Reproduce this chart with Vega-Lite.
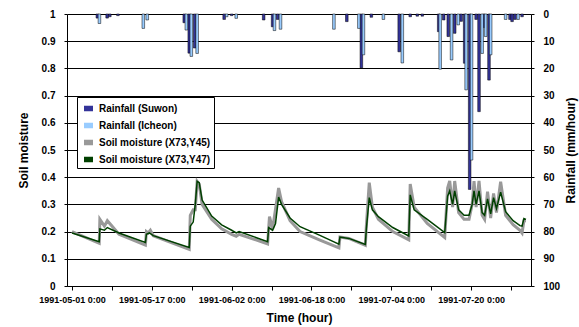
{
  "$schema": "https://vega.github.io/schema/vega-lite/v6.json",
  "width": 464,
  "height": 272,
  "autosize": {"type": "none"},
  "padding": {"left": 67, "top": 14, "right": 48, "bottom": 41},
  "background": "white",
  "config": {
    "view": {"stroke": null},
    "font": "Liberation Sans",
    "axis": {
      "labelFont": "Liberation Sans", "labelFontWeight": "bold", "labelColor": "#000",
      "titleFont": "Liberation Sans", "titleFontWeight": "bold", "titleColor": "#000", "titleFontSize": 12,
      "domainColor": "#000", "tickColor": "#000", "domainWidth": 1
    }
  },
  "datasets": {
    "rain": [
      {"t": "1991-05-06T02:00", "s": "Rainfall (Suwon)", "r": 1.5},
      {"t": "1991-05-08T01:00", "s": "Rainfall (Suwon)", "r": 1.5},
      {"t": "1991-05-08T14:00", "s": "Rainfall (Suwon)", "r": 1.0},
      {"t": "1991-05-10T05:00", "s": "Rainfall (Suwon)", "r": 0.6},
      {"t": "1991-05-23T12:00", "s": "Rainfall (Suwon)", "r": 3.2},
      {"t": "1991-05-24T12:00", "s": "Rainfall (Suwon)", "r": 14.4},
      {"t": "1991-05-25T14:00", "s": "Rainfall (Suwon)", "r": 12.5},
      {"t": "1991-05-31T12:00", "s": "Rainfall (Suwon)", "r": 2.0},
      {"t": "1991-06-02T00:00", "s": "Rainfall (Suwon)", "r": 0.6},
      {"t": "1991-06-08T10:00", "s": "Rainfall (Suwon)", "r": 2.2},
      {"t": "1991-06-10T05:00", "s": "Rainfall (Suwon)", "r": 4.7},
      {"t": "1991-06-11T05:00", "s": "Rainfall (Suwon)", "r": 2.0},
      {"t": "1991-06-25T02:00", "s": "Rainfall (Suwon)", "r": 2.8},
      {"t": "1991-06-28T00:00", "s": "Rainfall (Suwon)", "r": 19.8},
      {"t": "1991-06-30T00:00", "s": "Rainfall (Suwon)", "r": 1.2},
      {"t": "1991-07-05T14:00", "s": "Rainfall (Suwon)", "r": 13.9},
      {"t": "1991-07-07T19:00", "s": "Rainfall (Suwon)", "r": 1.0},
      {"t": "1991-07-09T05:00", "s": "Rainfall (Suwon)", "r": 0.8},
      {"t": "1991-07-10T05:00", "s": "Rainfall (Suwon)", "r": 0.8},
      {"t": "1991-07-13T12:00", "s": "Rainfall (Suwon)", "r": 6.5},
      {"t": "1991-07-14T12:00", "s": "Rainfall (Suwon)", "r": 2.2},
      {"t": "1991-07-15T10:00", "s": "Rainfall (Suwon)", "r": 8.3},
      {"t": "1991-07-16T17:00", "s": "Rainfall (Suwon)", "r": 7.1},
      {"t": "1991-07-18T00:00", "s": "Rainfall (Suwon)", "r": 2.7},
      {"t": "1991-07-18T17:00", "s": "Rainfall (Suwon)", "r": 18.1},
      {"t": "1991-07-19T17:00", "s": "Rainfall (Suwon)", "r": 64.5},
      {"t": "1991-07-21T00:00", "s": "Rainfall (Suwon)", "r": 2.0},
      {"t": "1991-07-21T14:00", "s": "Rainfall (Suwon)", "r": 35.9},
      {"t": "1991-07-22T14:00", "s": "Rainfall (Suwon)", "r": 5.0},
      {"t": "1991-07-23T14:00", "s": "Rainfall (Suwon)", "r": 24.3},
      {"t": "1991-07-27T19:00", "s": "Rainfall (Suwon)", "r": 2.0},
      {"t": "1991-07-28T05:00", "s": "Rainfall (Suwon)", "r": 2.8},
      {"t": "1991-07-28T19:00", "s": "Rainfall (Suwon)", "r": 2.0},
      {"t": "1991-07-30T05:00", "s": "Rainfall (Suwon)", "r": 1.0},
      {"t": "1991-05-06T12:00", "s": "Rainfall (Icheon)", "r": 3.5},
      {"t": "1991-05-15T07:00", "s": "Rainfall (Icheon)", "r": 5.3},
      {"t": "1991-05-16T02:00", "s": "Rainfall (Icheon)", "r": 2.2},
      {"t": "1991-05-23T22:00", "s": "Rainfall (Icheon)", "r": 5.9},
      {"t": "1991-05-24T22:00", "s": "Rainfall (Icheon)", "r": 15.6},
      {"t": "1991-05-26T02:00", "s": "Rainfall (Icheon)", "r": 14.5},
      {"t": "1991-06-01T00:00", "s": "Rainfall (Icheon)", "r": 1.0},
      {"t": "1991-06-02T22:00", "s": "Rainfall (Icheon)", "r": 1.6},
      {"t": "1991-06-10T14:00", "s": "Rainfall (Icheon)", "r": 6.1},
      {"t": "1991-06-11T19:00", "s": "Rainfall (Icheon)", "r": 5.6},
      {"t": "1991-06-22T12:00", "s": "Rainfall (Icheon)", "r": 5.6},
      {"t": "1991-06-27T12:00", "s": "Rainfall (Icheon)", "r": 5.3},
      {"t": "1991-06-28T10:00", "s": "Rainfall (Icheon)", "r": 15.0},
      {"t": "1991-07-02T10:00", "s": "Rainfall (Icheon)", "r": 2.0},
      {"t": "1991-07-06T05:00", "s": "Rainfall (Icheon)", "r": 18.0},
      {"t": "1991-07-13T19:00", "s": "Rainfall (Icheon)", "r": 20.3},
      {"t": "1991-07-16T02:00", "s": "Rainfall (Icheon)", "r": 16.9},
      {"t": "1991-07-17T10:00", "s": "Rainfall (Icheon)", "r": 4.0},
      {"t": "1991-07-19T00:00", "s": "Rainfall (Icheon)", "r": 27.9},
      {"t": "1991-07-20T02:00", "s": "Rainfall (Icheon)", "r": 53.7},
      {"t": "1991-07-22T05:00", "s": "Rainfall (Icheon)", "r": 14.5},
      {"t": "1991-07-22T22:00", "s": "Rainfall (Icheon)", "r": 8.3},
      {"t": "1991-07-23T22:00", "s": "Rainfall (Icheon)", "r": 15.0},
      {"t": "1991-07-26T22:00", "s": "Rainfall (Icheon)", "r": 2.0},
      {"t": "1991-07-29T10:00", "s": "Rainfall (Icheon)", "r": 2.0}
    ],
    "sm": [
      {"t": "1991-05-01T00:00", "s": "Soil moisture (X73,Y45)", "v": 0.2},
      {"t": "1991-05-06T11:00", "s": "Soil moisture (X73,Y45)", "v": 0.157},
      {"t": "1991-05-06T14:00", "s": "Soil moisture (X73,Y45)", "v": 0.245},
      {"t": "1991-05-07T12:00", "s": "Soil moisture (X73,Y45)", "v": 0.22},
      {"t": "1991-05-08T02:00", "s": "Soil moisture (X73,Y45)", "v": 0.24},
      {"t": "1991-05-10T10:00", "s": "Soil moisture (X73,Y45)", "v": 0.19},
      {"t": "1991-05-15T17:00", "s": "Soil moisture (X73,Y45)", "v": 0.15},
      {"t": "1991-05-15T22:00", "s": "Soil moisture (X73,Y45)", "v": 0.2},
      {"t": "1991-05-16T07:00", "s": "Soil moisture (X73,Y45)", "v": 0.195},
      {"t": "1991-05-16T17:00", "s": "Soil moisture (X73,Y45)", "v": 0.205},
      {"t": "1991-05-17T07:00", "s": "Soil moisture (X73,Y45)", "v": 0.185},
      {"t": "1991-05-24T12:00", "s": "Soil moisture (X73,Y45)", "v": 0.135},
      {"t": "1991-05-24T17:00", "s": "Soil moisture (X73,Y45)", "v": 0.26},
      {"t": "1991-05-25T07:00", "s": "Soil moisture (X73,Y45)", "v": 0.28},
      {"t": "1991-05-25T17:00", "s": "Soil moisture (X73,Y45)", "v": 0.28},
      {"t": "1991-05-26T02:00", "s": "Soil moisture (X73,Y45)", "v": 0.385},
      {"t": "1991-05-26T12:00", "s": "Soil moisture (X73,Y45)", "v": 0.375},
      {"t": "1991-05-27T02:00", "s": "Soil moisture (X73,Y45)", "v": 0.3},
      {"t": "1991-05-29T00:00", "s": "Soil moisture (X73,Y45)", "v": 0.245},
      {"t": "1991-05-31T00:00", "s": "Soil moisture (X73,Y45)", "v": 0.21},
      {"t": "1991-06-02T00:00", "s": "Soil moisture (X73,Y45)", "v": 0.19},
      {"t": "1991-06-02T22:00", "s": "Soil moisture (X73,Y45)", "v": 0.183},
      {"t": "1991-06-03T12:00", "s": "Soil moisture (X73,Y45)", "v": 0.19},
      {"t": "1991-06-09T05:00", "s": "Soil moisture (X73,Y45)", "v": 0.155},
      {"t": "1991-06-09T14:00", "s": "Soil moisture (X73,Y45)", "v": 0.255},
      {"t": "1991-06-10T05:00", "s": "Soil moisture (X73,Y45)", "v": 0.21},
      {"t": "1991-06-11T10:00", "s": "Soil moisture (X73,Y45)", "v": 0.36},
      {"t": "1991-06-12T00:00", "s": "Soil moisture (X73,Y45)", "v": 0.31},
      {"t": "1991-06-13T17:00", "s": "Soil moisture (X73,Y45)", "v": 0.24},
      {"t": "1991-06-15T17:00", "s": "Soil moisture (X73,Y45)", "v": 0.2},
      {"t": "1991-06-19T14:00", "s": "Soil moisture (X73,Y45)", "v": 0.17},
      {"t": "1991-06-23T12:00", "s": "Soil moisture (X73,Y45)", "v": 0.14},
      {"t": "1991-06-23T17:00", "s": "Soil moisture (X73,Y45)", "v": 0.18},
      {"t": "1991-06-25T12:00", "s": "Soil moisture (X73,Y45)", "v": 0.175},
      {"t": "1991-06-28T19:00", "s": "Soil moisture (X73,Y45)", "v": 0.15},
      {"t": "1991-06-29T00:00", "s": "Soil moisture (X73,Y45)", "v": 0.22},
      {"t": "1991-06-29T14:00", "s": "Soil moisture (X73,Y45)", "v": 0.38},
      {"t": "1991-06-30T05:00", "s": "Soil moisture (X73,Y45)", "v": 0.29},
      {"t": "1991-07-01T10:00", "s": "Soil moisture (X73,Y45)", "v": 0.245},
      {"t": "1991-07-04T07:00", "s": "Soil moisture (X73,Y45)", "v": 0.2},
      {"t": "1991-07-07T12:00", "s": "Soil moisture (X73,Y45)", "v": 0.17},
      {"t": "1991-07-07T19:00", "s": "Soil moisture (X73,Y45)", "v": 0.375},
      {"t": "1991-07-08T14:00", "s": "Soil moisture (X73,Y45)", "v": 0.29},
      {"t": "1991-07-11T05:00", "s": "Soil moisture (X73,Y45)", "v": 0.23},
      {"t": "1991-07-14T17:00", "s": "Soil moisture (X73,Y45)", "v": 0.178},
      {"t": "1991-07-15T07:00", "s": "Soil moisture (X73,Y45)", "v": 0.36},
      {"t": "1991-07-15T17:00", "s": "Soil moisture (X73,Y45)", "v": 0.386},
      {"t": "1991-07-16T07:00", "s": "Soil moisture (X73,Y45)", "v": 0.29},
      {"t": "1991-07-16T17:00", "s": "Soil moisture (X73,Y45)", "v": 0.386},
      {"t": "1991-07-17T12:00", "s": "Soil moisture (X73,Y45)", "v": 0.27},
      {"t": "1991-07-18T14:00", "s": "Soil moisture (X73,Y45)", "v": 0.245},
      {"t": "1991-07-19T14:00", "s": "Soil moisture (X73,Y45)", "v": 0.245},
      {"t": "1991-07-20T05:00", "s": "Soil moisture (X73,Y45)", "v": 0.3},
      {"t": "1991-07-20T14:00", "s": "Soil moisture (X73,Y45)", "v": 0.386},
      {"t": "1991-07-21T00:00", "s": "Soil moisture (X73,Y45)", "v": 0.29},
      {"t": "1991-07-21T14:00", "s": "Soil moisture (X73,Y45)", "v": 0.386},
      {"t": "1991-07-22T05:00", "s": "Soil moisture (X73,Y45)", "v": 0.26},
      {"t": "1991-07-22T17:00", "s": "Soil moisture (X73,Y45)", "v": 0.245},
      {"t": "1991-07-23T07:00", "s": "Soil moisture (X73,Y45)", "v": 0.347},
      {"t": "1991-07-23T22:00", "s": "Soil moisture (X73,Y45)", "v": 0.25},
      {"t": "1991-07-24T12:00", "s": "Soil moisture (X73,Y45)", "v": 0.34},
      {"t": "1991-07-25T02:00", "s": "Soil moisture (X73,Y45)", "v": 0.27},
      {"t": "1991-07-25T22:00", "s": "Soil moisture (X73,Y45)", "v": 0.383},
      {"t": "1991-07-26T22:00", "s": "Soil moisture (X73,Y45)", "v": 0.26},
      {"t": "1991-07-28T10:00", "s": "Soil moisture (X73,Y45)", "v": 0.225},
      {"t": "1991-07-29T19:00", "s": "Soil moisture (X73,Y45)", "v": 0.205},
      {"t": "1991-07-30T05:00", "s": "Soil moisture (X73,Y45)", "v": 0.195},
      {"t": "1991-07-30T14:00", "s": "Soil moisture (X73,Y45)", "v": 0.24},
      {"t": "1991-07-31T00:00", "s": "Soil moisture (X73,Y45)", "v": 0.24},
      {"t": "1991-05-01T00:00", "s": "Soil moisture (X73,Y47)", "v": 0.195},
      {"t": "1991-05-06T11:00", "s": "Soil moisture (X73,Y47)", "v": 0.163},
      {"t": "1991-05-06T14:00", "s": "Soil moisture (X73,Y47)", "v": 0.21},
      {"t": "1991-05-07T12:00", "s": "Soil moisture (X73,Y47)", "v": 0.205},
      {"t": "1991-05-08T02:00", "s": "Soil moisture (X73,Y47)", "v": 0.215},
      {"t": "1991-05-10T10:00", "s": "Soil moisture (X73,Y47)", "v": 0.195},
      {"t": "1991-05-15T17:00", "s": "Soil moisture (X73,Y47)", "v": 0.16},
      {"t": "1991-05-15T22:00", "s": "Soil moisture (X73,Y47)", "v": 0.19},
      {"t": "1991-05-16T12:00", "s": "Soil moisture (X73,Y47)", "v": 0.195},
      {"t": "1991-05-17T07:00", "s": "Soil moisture (X73,Y47)", "v": 0.185},
      {"t": "1991-05-24T12:00", "s": "Soil moisture (X73,Y47)", "v": 0.142},
      {"t": "1991-05-24T17:00", "s": "Soil moisture (X73,Y47)", "v": 0.22},
      {"t": "1991-05-25T07:00", "s": "Soil moisture (X73,Y47)", "v": 0.235},
      {"t": "1991-05-25T17:00", "s": "Soil moisture (X73,Y47)", "v": 0.3},
      {"t": "1991-05-26T02:00", "s": "Soil moisture (X73,Y47)", "v": 0.385},
      {"t": "1991-05-26T12:00", "s": "Soil moisture (X73,Y47)", "v": 0.38},
      {"t": "1991-05-27T02:00", "s": "Soil moisture (X73,Y47)", "v": 0.316},
      {"t": "1991-05-29T00:00", "s": "Soil moisture (X73,Y47)", "v": 0.257},
      {"t": "1991-05-31T00:00", "s": "Soil moisture (X73,Y47)", "v": 0.225},
      {"t": "1991-06-02T00:00", "s": "Soil moisture (X73,Y47)", "v": 0.205},
      {"t": "1991-06-02T22:00", "s": "Soil moisture (X73,Y47)", "v": 0.195},
      {"t": "1991-06-03T12:00", "s": "Soil moisture (X73,Y47)", "v": 0.2},
      {"t": "1991-06-09T05:00", "s": "Soil moisture (X73,Y47)", "v": 0.163},
      {"t": "1991-06-09T10:00", "s": "Soil moisture (X73,Y47)", "v": 0.215},
      {"t": "1991-06-10T05:00", "s": "Soil moisture (X73,Y47)", "v": 0.205},
      {"t": "1991-06-10T19:00", "s": "Soil moisture (X73,Y47)", "v": 0.23},
      {"t": "1991-06-11T10:00", "s": "Soil moisture (X73,Y47)", "v": 0.327},
      {"t": "1991-06-12T00:00", "s": "Soil moisture (X73,Y47)", "v": 0.3},
      {"t": "1991-06-13T17:00", "s": "Soil moisture (X73,Y47)", "v": 0.25},
      {"t": "1991-06-15T17:00", "s": "Soil moisture (X73,Y47)", "v": 0.218},
      {"t": "1991-06-19T14:00", "s": "Soil moisture (X73,Y47)", "v": 0.187},
      {"t": "1991-06-23T12:00", "s": "Soil moisture (X73,Y47)", "v": 0.154},
      {"t": "1991-06-23T17:00", "s": "Soil moisture (X73,Y47)", "v": 0.18},
      {"t": "1991-06-25T12:00", "s": "Soil moisture (X73,Y47)", "v": 0.175},
      {"t": "1991-06-28T19:00", "s": "Soil moisture (X73,Y47)", "v": 0.153},
      {"t": "1991-06-29T00:00", "s": "Soil moisture (X73,Y47)", "v": 0.21},
      {"t": "1991-06-29T14:00", "s": "Soil moisture (X73,Y47)", "v": 0.325},
      {"t": "1991-06-30T05:00", "s": "Soil moisture (X73,Y47)", "v": 0.28},
      {"t": "1991-07-01T10:00", "s": "Soil moisture (X73,Y47)", "v": 0.255},
      {"t": "1991-07-04T07:00", "s": "Soil moisture (X73,Y47)", "v": 0.215},
      {"t": "1991-07-07T12:00", "s": "Soil moisture (X73,Y47)", "v": 0.184},
      {"t": "1991-07-07T19:00", "s": "Soil moisture (X73,Y47)", "v": 0.335},
      {"t": "1991-07-08T14:00", "s": "Soil moisture (X73,Y47)", "v": 0.28},
      {"t": "1991-07-11T05:00", "s": "Soil moisture (X73,Y47)", "v": 0.245},
      {"t": "1991-07-14T17:00", "s": "Soil moisture (X73,Y47)", "v": 0.196},
      {"t": "1991-07-15T07:00", "s": "Soil moisture (X73,Y47)", "v": 0.33},
      {"t": "1991-07-15T17:00", "s": "Soil moisture (X73,Y47)", "v": 0.35},
      {"t": "1991-07-16T07:00", "s": "Soil moisture (X73,Y47)", "v": 0.3},
      {"t": "1991-07-16T17:00", "s": "Soil moisture (X73,Y47)", "v": 0.35},
      {"t": "1991-07-17T12:00", "s": "Soil moisture (X73,Y47)", "v": 0.28},
      {"t": "1991-07-18T14:00", "s": "Soil moisture (X73,Y47)", "v": 0.26},
      {"t": "1991-07-19T14:00", "s": "Soil moisture (X73,Y47)", "v": 0.26},
      {"t": "1991-07-20T05:00", "s": "Soil moisture (X73,Y47)", "v": 0.3},
      {"t": "1991-07-20T14:00", "s": "Soil moisture (X73,Y47)", "v": 0.35},
      {"t": "1991-07-21T00:00", "s": "Soil moisture (X73,Y47)", "v": 0.3},
      {"t": "1991-07-21T14:00", "s": "Soil moisture (X73,Y47)", "v": 0.35},
      {"t": "1991-07-22T05:00", "s": "Soil moisture (X73,Y47)", "v": 0.27},
      {"t": "1991-07-22T17:00", "s": "Soil moisture (X73,Y47)", "v": 0.26},
      {"t": "1991-07-23T07:00", "s": "Soil moisture (X73,Y47)", "v": 0.32},
      {"t": "1991-07-23T22:00", "s": "Soil moisture (X73,Y47)", "v": 0.265},
      {"t": "1991-07-24T12:00", "s": "Soil moisture (X73,Y47)", "v": 0.325},
      {"t": "1991-07-25T02:00", "s": "Soil moisture (X73,Y47)", "v": 0.285},
      {"t": "1991-07-25T22:00", "s": "Soil moisture (X73,Y47)", "v": 0.345},
      {"t": "1991-07-26T22:00", "s": "Soil moisture (X73,Y47)", "v": 0.273},
      {"t": "1991-07-28T10:00", "s": "Soil moisture (X73,Y47)", "v": 0.24},
      {"t": "1991-07-29T19:00", "s": "Soil moisture (X73,Y47)", "v": 0.222},
      {"t": "1991-07-30T05:00", "s": "Soil moisture (X73,Y47)", "v": 0.22},
      {"t": "1991-07-30T14:00", "s": "Soil moisture (X73,Y47)", "v": 0.248},
      {"t": "1991-07-31T00:00", "s": "Soil moisture (X73,Y47)", "v": 0.245}
    ]
  },
  "encoding": {
    "x": {
      "field": "t", "type": "temporal",
      "scale": {"domain": [{"year": 1991, "month": 5, "date": 1}, {"year": 1991, "month": 7, "date": 31}]},
      "axis": {
        "title": "Time (hour)",
        "values": [
          {"year": 1991, "month": 5, "date": 1}, {"year": 1991, "month": 5, "date": 9},
          {"year": 1991, "month": 5, "date": 17}, {"year": 1991, "month": 5, "date": 25},
          {"year": 1991, "month": 6, "date": 2}, {"year": 1991, "month": 6, "date": 10},
          {"year": 1991, "month": 6, "date": 18}, {"year": 1991, "month": 6, "date": 26},
          {"year": 1991, "month": 7, "date": 4}, {"year": 1991, "month": 7, "date": 12},
          {"year": 1991, "month": 7, "date": 20}, {"year": 1991, "month": 7, "date": 28}
        ],
        "labelExpr": "indexof(['05-01','05-17','06-02','06-18','07-04','07-20'], timeFormat(datum.value, '%m-%d')) >= 0 ? timeFormat(datum.value, '%Y-%m-%d %-H:%M') : ''",
        "labelFontSize": 9, "labelOverlap": false, "labelFlush": false, "labelBound": false,
        "grid": false, "tickSize": 4, "labelPadding": 5, "titlePadding": 8
      }
    }
  },
  "layer": [
    {
      "data": {"name": "rain"},
      "mark": {"type": "bar", "size": 2.6, "stroke": "#000", "strokeWidth": 0.5},
      "encoding": {
        "y": {
          "field": "r", "type": "quantitative",
          "scale": {"domain": [0, 100], "reverse": true, "nice": false, "zero": true},
          "axis": {
            "orient": "right", "title": "Rainfall (mm/hour)", "values": [0, 10, 20, 30, 40, 50, 60, 70, 80, 90, 100],
            "grid": false, "labelFontSize": 10, "tickSize": 3, "labelPadding": 9, "titleAngle": 270, "titlePadding": 18
          }
        },
        "color": {
          "field": "s", "type": "nominal",
          "scale": {
            "domain": ["Rainfall (Suwon)", "Rainfall (Icheon)", "Soil moisture (X73,Y45)", "Soil moisture (X73,Y47)"],
            "range": ["#333399", "#99CCFF", "#999999", "#004000"]
          },
          "legend": {
            "title": null, "orient": "none", "legendX": 10, "legendY": 83, "direction": "vertical",
            "padding": 3, "strokeColor": "#000", "fillColor": "#fff",
            "labelFont": "Liberation Sans", "labelFontWeight": "bold", "labelFontSize": 10, "labelColor": "#000",
            "symbolSize": 225, "rowPadding": 3, "labelOffset": 2,
            "symbolType": "M-0.5,-0.27H0.5V0.27H-0.5Z"
          }
        }
      }
    },
    {
      "data": {"name": "sm"},
      "encoding": {
        "y": {
          "field": "v", "type": "quantitative",
          "scale": {"domain": [0, 1], "nice": false},
          "axis": {
            "orient": "left", "title": "Soil moisture", "values": [0, 0.1, 0.2, 0.3, 0.4, 0.5, 0.6, 0.7, 0.8, 0.9, 1],
            "format": ".1~f", "grid": true, "gridColor": "#000", "gridWidth": 1, "gridOpacity": 1,
            "labelFontSize": 10, "tickSize": 3, "labelPadding": 9, "titlePadding": 11
          }
        },
        "color": {
          "field": "s", "type": "nominal",
          "scale": {
            "domain": ["Rainfall (Suwon)", "Rainfall (Icheon)", "Soil moisture (X73,Y45)", "Soil moisture (X73,Y47)"],
            "range": ["#333399", "#99CCFF", "#999999", "#004000"]
          },
          "legend": null
        }
      },
      "layer": [
        {
          "transform": [{"filter": "datum.s == 'Soil moisture (X73,Y45)'"}],
          "mark": {"type": "line", "strokeWidth": 3}
        },
        {
          "transform": [{"filter": "datum.s == 'Soil moisture (X73,Y47)'"}],
          "mark": {"type": "line", "strokeWidth": 1.5}
        }
      ]
    }
  ],
  "resolve": {"scale": {"y": "independent"}}
}
